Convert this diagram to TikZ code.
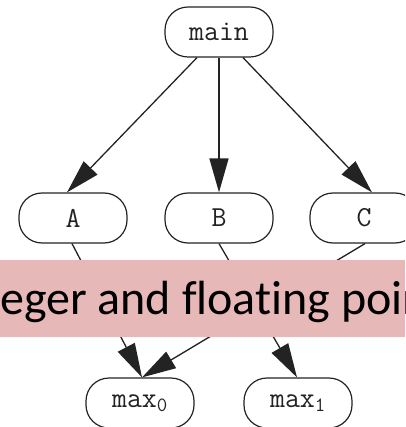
\documentclass[tikz,border=0pt]{standalone}
\usepackage{fontspec}
\newfontfamily\bandfont[Ligatures=NoCommon]{Carlito}
\usetikzlibrary{arrows.meta}
\definecolor{bandpink}{RGB}{230,184,183}
\definecolor{inkgray}{RGB}{35,35,35}
\tikzset{
  fn/.style={draw=inkgray, line width=1.2pt, rounded corners=23pt, minimum width=108pt, minimum height=50pt, inner sep=0pt, text=inkgray, font=\ttfamily\fontsize{29}{32}\selectfont},
  edge/.style={draw=inkgray, line width=1.3pt, -{Triangle[length=34pt,width=19pt]}}
}
\begin{document}
\begin{tikzpicture}[x=1pt,y=-1pt]
\useasboundingbox (0,0) rectangle (405,427);
\clip (0,0) rectangle (405,427);
\node[fn] (main) at (219,32) {main};
\node[fn] (A) at (73,218) {A};
\node[fn] (B) at (219,218) {B};
\node[fn] (C) at (364,218) {C};
\node[fn] (m0) at (140,403) {max\textsubscript{0}};
\node[fn] (m1) at (298,403) {max\textsubscript{1}};
\draw[edge] ([xshift=-22pt]main.south) -- ([xshift=-6pt]A.north);
\draw[edge] (main.south) -- (B.north);
\draw[edge] ([xshift=24pt]main.south) -- ([xshift=8pt]C.north);
\draw[edge] ([xshift=-1pt]A.south) -- ([xshift=2pt]m0.north);
\draw[edge] (B.south) -- ([xshift=-1pt]m1.north);
\draw[edge] ([xshift=1pt]C.south) -- ([xshift=2pt]m0.north);
\fill[bandpink] (0,260) rectangle (405,337);
\node[anchor=base west, inner sep=0pt, font=\bandfont\fontsize{48}{58}\selectfont] (band) at (0,314) {\llap{Int}eger and floating point};
\end{tikzpicture}
\end{document}
